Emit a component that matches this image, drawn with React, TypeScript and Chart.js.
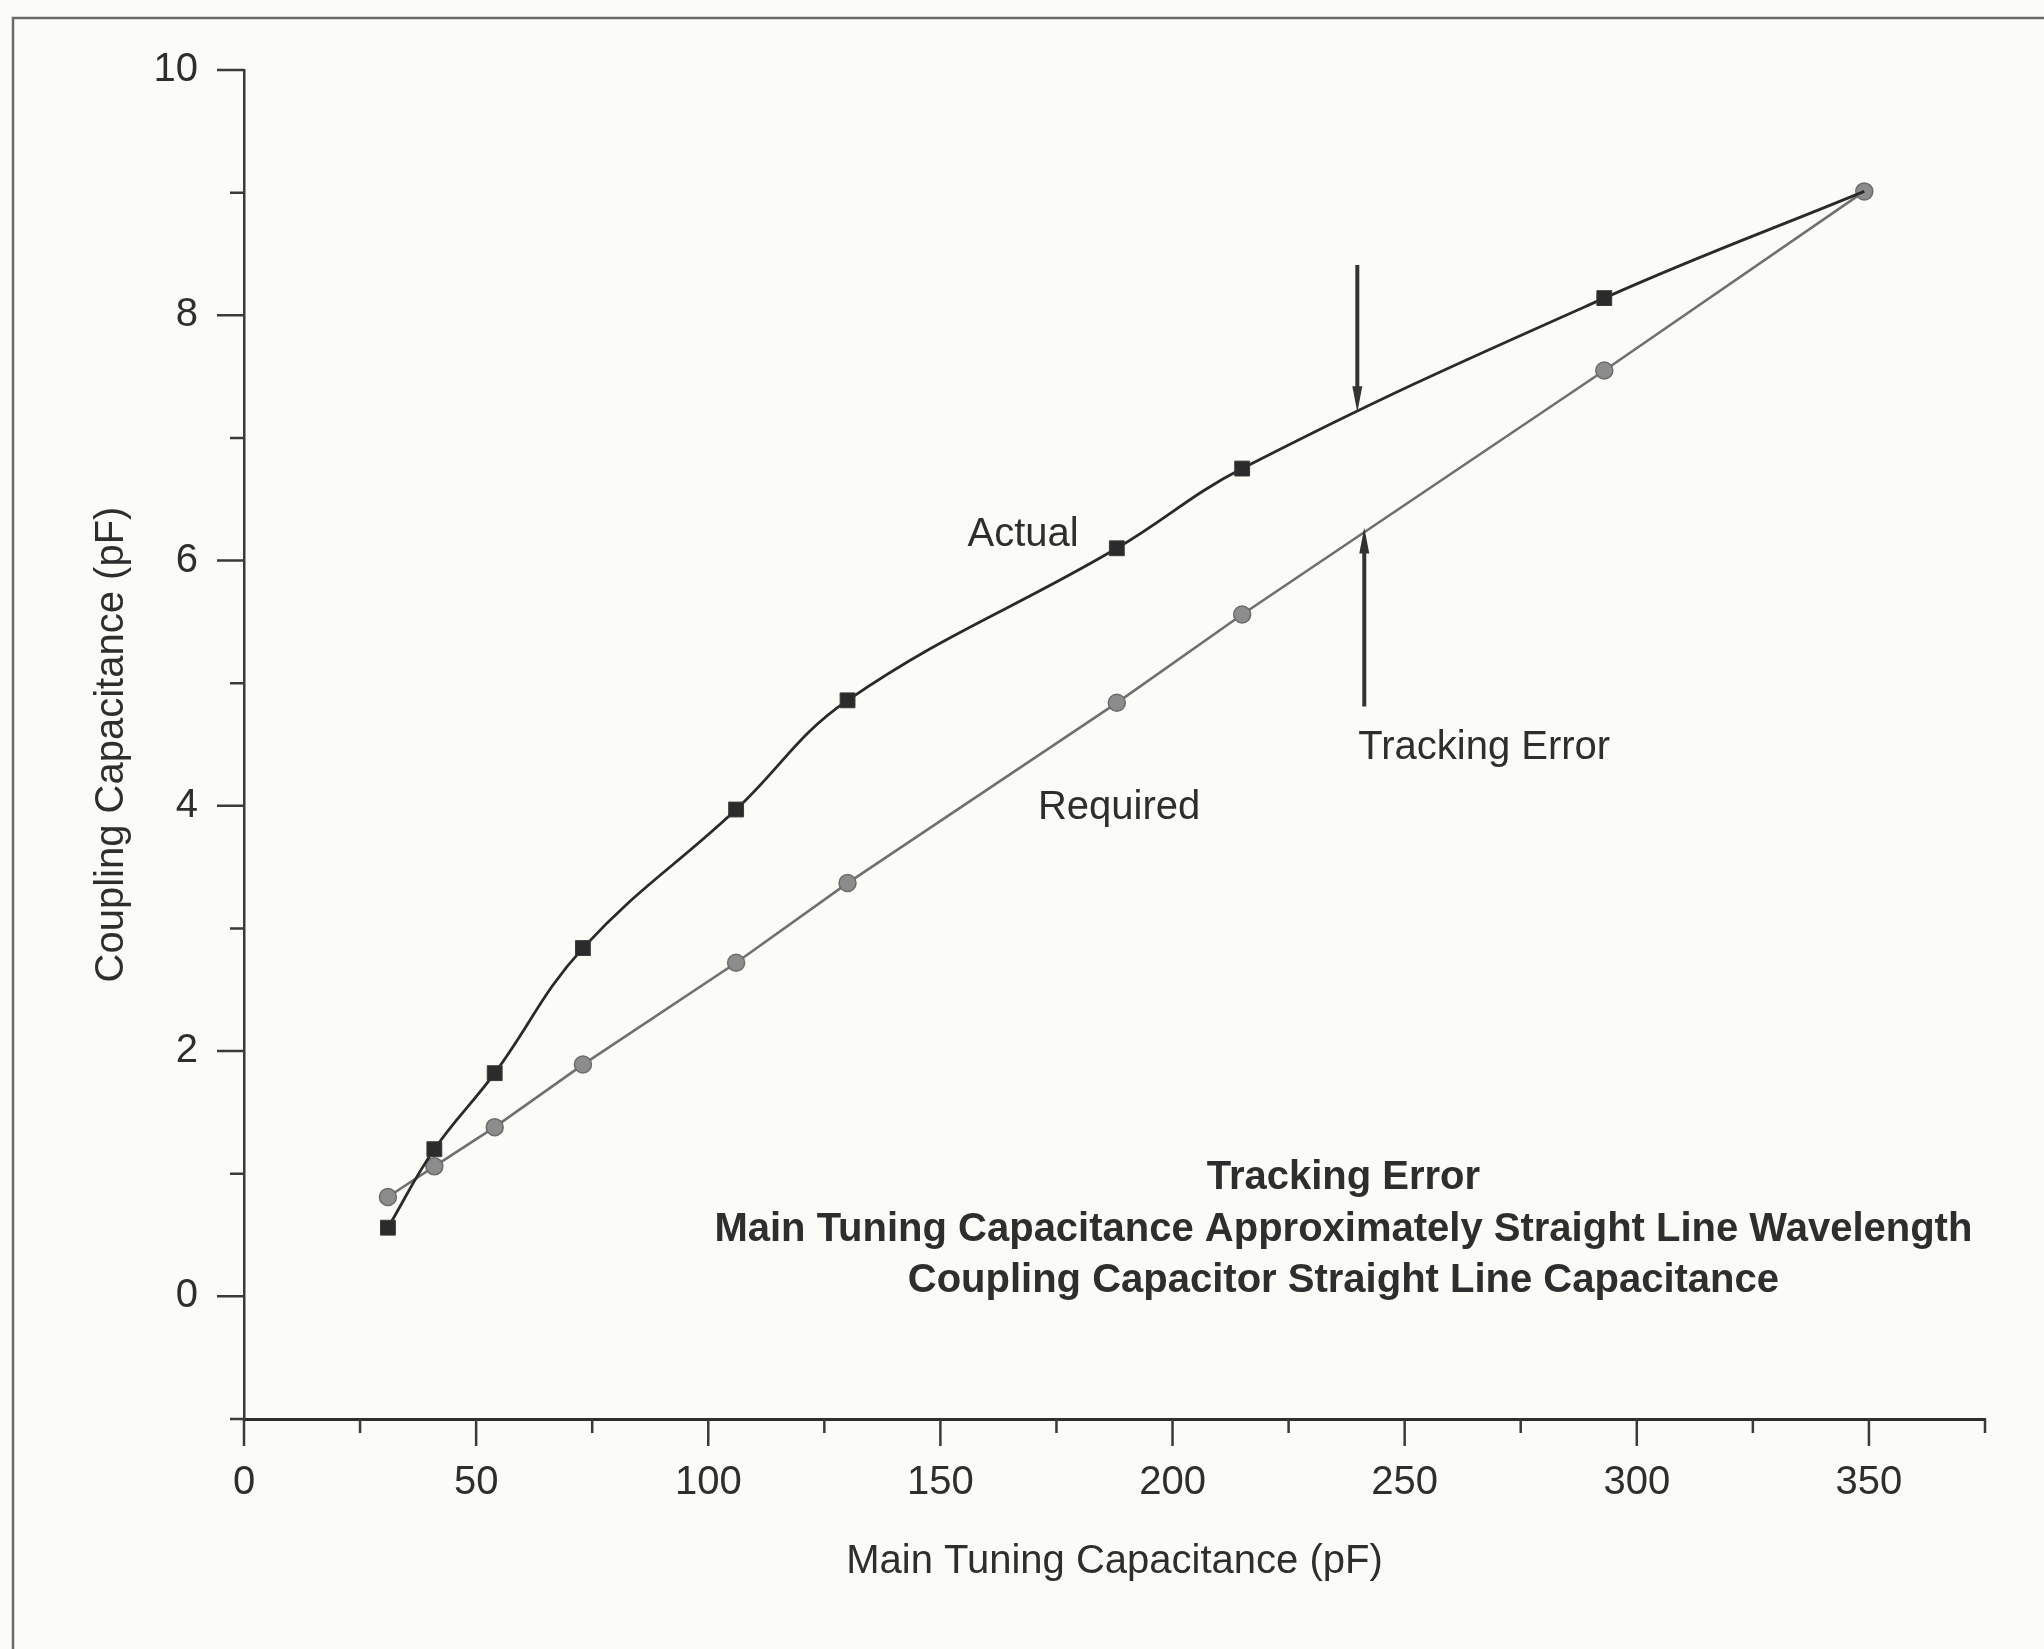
import React, { useEffect, useRef } from 'react';
import { Chart, registerables } from 'chart.js';

Chart.register(...registerables);

// ---- data ----
const mainTuningPF = [31, 41, 54, 73, 106, 130, 188, 215, 293, 349];
const actualPF = [0.56, 1.2, 1.82, 2.84, 3.97, 4.86, 6.1, 6.75, 8.14, 9.01];
const requiredPF = [0.81, 1.06, 1.38, 1.89, 2.72, 3.37, 4.84, 5.56, 7.55, 9.01];
const seriesNames = ['Actual', 'Required'];
const xAxisTitle = 'Main Tuning Capacitance (pF)';
const yAxisTitle = 'Coupling Capacitance (pF)';
const errorLabel = 'Tracking Error';
const captionLines = [
  'Tracking Error',
  'Main Tuning Capacitance Approximately Straight Line Wavelength',
  'Coupling Capacitor Straight Line Capacitance',
];

const FONT = "'Liberation Sans', Arial, Helvetica, sans-serif";
const INK = '#2e2e2e';

const backgroundPlugin = {
  id: 'paperBackground',
  beforeDraw(chart: any) {
    const { ctx, width, height } = chart;
    ctx.save();
    ctx.fillStyle = '#fbfbf8';
    ctx.fillRect(0, 0, width, height);
    ctx.strokeStyle = '#6a6a6a';
    ctx.lineWidth = 2.5;
    ctx.beginPath();
    ctx.moveTo(13, height);
    ctx.lineTo(13, 18);
    ctx.lineTo(width, 18);
    ctx.stroke();
    ctx.restore();
  },
};

const tickPlugin = {
  id: 'axisTickMarks',
  afterDraw(chart: any) {
    const { ctx, chartArea } = chart;
    const xs = chart.scales.x;
    const ys = chart.scales.y;
    ctx.save();
    ctx.strokeStyle = '#3a3a3a';
    ctx.lineWidth = 2.5;
    ctx.beginPath();
    for (let v = xs.min; v <= xs.max + 1e-6; v += 25) {
      const px = xs.getPixelForValue(v);
      const len = v % 50 === 0 ? 27 : 14;
      ctx.moveTo(px, chartArea.bottom);
      ctx.lineTo(px, chartArea.bottom + len);
    }
    for (let v = ys.min; v <= ys.max + 1e-6; v += 1) {
      const py = ys.getPixelForValue(v);
      const len = Math.abs(v % 2) < 1e-6 ? 27 : 14;
      ctx.moveTo(chartArea.left - len, py);
      ctx.lineTo(chartArea.left, py);
    }
    ctx.stroke();
    ctx.restore();
  },
};

function arrow(ctx: any, x: number, y0: number, y1: number) {
  const dir = y1 > y0 ? 1 : -1;
  const head = 26;
  ctx.beginPath();
  ctx.moveTo(x, y0);
  ctx.lineTo(x, y1 - dir * head * 0.6);
  ctx.stroke();
  ctx.beginPath();
  ctx.moveTo(x, y1);
  ctx.lineTo(x - 5, y1 - dir * head);
  ctx.lineTo(x + 5, y1 - dir * head);
  ctx.closePath();
  ctx.fill();
}

const annotationPlugin = {
  id: 'chartAnnotations',
  afterDatasetsDraw(chart: any) {
    const { ctx } = chart;
    const xs = chart.scales.x;
    const ys = chart.scales.y;
    const X = (v: number) => xs.getPixelForValue(v);
    const Y = (v: number) => ys.getPixelForValue(v);
    ctx.save();
    ctx.fillStyle = INK;
    ctx.textBaseline = 'middle';
    ctx.font = `40px ${FONT}`;
    ctx.textAlign = 'center';
    ctx.fillText(seriesNames[0], X(167.8), Y(6.21));
    ctx.fillText(seriesNames[1], X(188.5), Y(3.98));
    ctx.textAlign = 'left';
    ctx.fillText(errorLabel, X(240), Y(4.47));

    ctx.font = `bold 40px ${FONT}`;
    ctx.textAlign = 'center';
    const ly = [0.967, 0.544, 0.122];
    captionLines.forEach((t, i) => ctx.fillText(t, X(236.8), Y(ly[i])));

    ctx.strokeStyle = '#333';
    ctx.fillStyle = '#333';
    ctx.lineWidth = 4;
    arrow(ctx, X(239.8), Y(8.41), Y(7.21));
    arrow(ctx, X(241.3), Y(4.81), Y(6.27));
    ctx.restore();
  },
};

export default function App() {
  const ref = useRef<HTMLCanvasElement | null>(null);

  useEffect(() => {
    document.body.style.margin = '0';
    const canvas = ref.current;
    if (!canvas) return;
    Chart.defaults.font.family = FONT;
    const last = mainTuningPF.length - 1;
    const chart = new Chart(canvas, {
      type: 'line',
      data: {
        datasets: [
          {
            label: seriesNames[0],
            data: mainTuningPF.map((x, i) => ({ x, y: actualPF[i] })),
            borderColor: '#2a2a2a',
            borderWidth: 2.8,
            tension: 0.4,
            pointStyle: 'rect',
            pointRadius: (c: any) => (c.dataIndex === last ? 0 : 10.5),
            pointBackgroundColor: '#2b2b2b',
            pointBorderColor: '#3a3a3a',
            pointBorderWidth: 1,
            fill: false,
          },
          {
            label: seriesNames[1],
            data: mainTuningPF.map((x, i) => ({ x, y: requiredPF[i] })),
            borderColor: '#707070',
            borderWidth: 2.6,
            tension: 0,
            pointStyle: 'circle',
            pointRadius: 8.5,
            pointBackgroundColor: '#8c8c8c',
            pointBorderColor: '#6c6c6c',
            pointBorderWidth: 1.5,
            fill: false,
          },
        ],
      } as any,
      options: {
        animation: false,
        responsive: false,
        devicePixelRatio: 1,
        layout: { padding: { top: 65, right: 59, left: 0, bottom: 0 } },
        plugins: {
          legend: { display: false },
          tooltip: { enabled: false },
          title: { display: false },
        },
        scales: {
          x: {
            type: 'linear',
            position: 'bottom',
            min: 0,
            max: 375,
            grid: { display: false, drawTicks: false },
            border: { display: true, color: '#2e2e2e', width: 3 },
            ticks: {
              stepSize: 50,
              includeBounds: false,
              padding: 40,
              color: INK,
              font: { size: 40, family: FONT },
              maxRotation: 0,
            },
            title: {
              display: true,
              text: xAxisTitle,
              color: INK,
              font: { size: 40, family: FONT },
              padding: { top: 0, bottom: 63 },
            },
            afterFit: (s: any) => {
              s.height = 230;
            },
          },
          y: {
            type: 'linear',
            min: -1,
            max: 10,
            grid: { display: false, drawTicks: false },
            border: { display: true, color: '#3a3a3a', width: 2.5 },
            ticks: {
              stepSize: 2,
              includeBounds: false,
              padding: 46,
              color: INK,
              font: { size: 40, family: FONT },
            },
            title: {
              display: true,
              text: yAxisTitle,
              color: INK,
              font: { size: 40, family: FONT },
              padding: { top: 88, bottom: 0 },
            },
            afterFit: (s: any) => {
              s.width = 244;
            },
          },
        },
      } as any,
      plugins: [backgroundPlugin, tickPlugin, annotationPlugin],
    });
    return () => chart.destroy();
  }, []);

  return (
    <div style={{ width: 2044, height: 1649 }}>
      <canvas ref={ref} width={2044} height={1649} style={{ width: 2044, height: 1649, display: 'block' }} />
    </div>
  );
}
